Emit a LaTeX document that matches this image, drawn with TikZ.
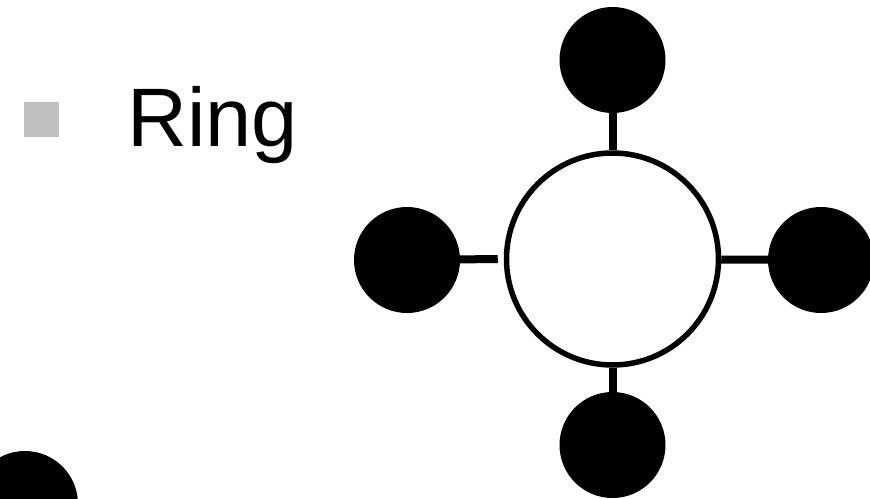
\documentclass[tikz,border=0pt]{standalone}
\usepackage{fontspec}
\setmainfont{Liberation Sans}
\usepackage{xcolor}
\definecolor{cBullet}{HTML}{C0C0C0}
\definecolor{cNode}{HTML}{000000}
\usepackage{tikz}
\usetikzlibrary{positioning,calc}
\tikzset{
  node-ring/.style={draw=cNode,line width=5.5pt,circle,fill=white,
    minimum size=212pt,inner sep=0pt},
  node-station/.style={circle,fill=cNode,minimum size=106pt,inner sep=0pt},
  node-bullet/.style={fill=cBullet,minimum size=35pt,inner sep=0pt},
  stub/.style={draw=cNode,line width=8pt},
}

\begin{document}
\begin{tikzpicture}[x=1pt,y=-1pt]
  \useasboundingbox (0,0) rectangle (870,498);
  \clip (0,0) rectangle (870,498);
  % title line
  \node[node-bullet] (bl) at (41,119) {};
  \node[anchor=base west,inner sep=0pt,font=\fontsize{83}{99}\selectfont]
    (title) at (127,146) {Ring};
  % ring with its four stations
  \node[node-ring] (ring) at (612.5,259) {};
  \node[node-station] (st-top)   at (612.5,60)  {};
  \node[node-station] (st-left)  at (407,260)   {};
  \node[node-station] (st-right) at (821,260)   {};
  \node[node-station] (st-bot)   at (612.5,445) {};
  \node[node-station] (st-edge)  at (25,504)    {};
  \draw[stub] (st-top) -- (ring);
  \draw[stub] (st-left) -- ([xshift=-6pt]ring.west);
  \draw[stub] (ring) -- (st-right);
  \draw[stub] (ring) -- (st-bot);
\end{tikzpicture}
\end{document}
